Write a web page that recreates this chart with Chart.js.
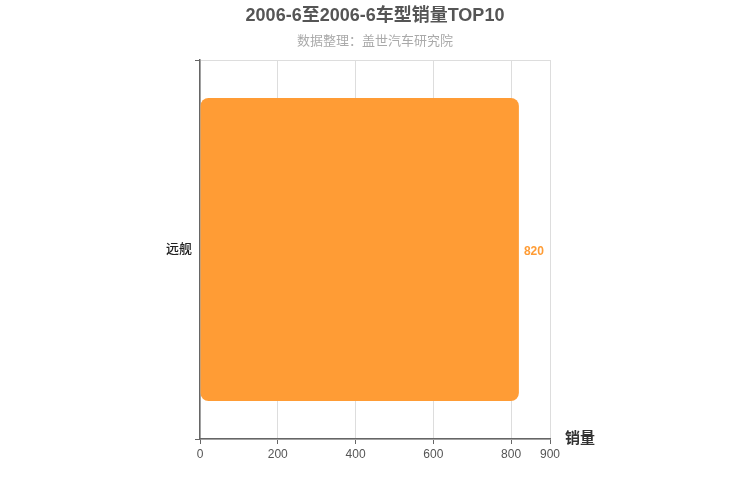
<!DOCTYPE html>
<html>
<head>
<meta charset="utf-8">
<script src="https://cdn.jsdelivr.net/npm/chart.js@4"></script>
<style>
  body { margin: 0; background: #fff; }
  #wrap { width: 750px; height: 500px; }
</style>
</head>
<body>
<div id="wrap"><canvas id="salesChart" width="750" height="500"></canvas></div>
<script>
const titleText = "2006-6至2006-6车型销量TOP10";
const subtitleText = "数据整理：盖世汽车研究院";
const models = ["远舰"];
const sales = [820];
const xTicks = [0, 200, 400, 600, 800, 900];
const axisName = "销量";

const FONT = "'Liberation Sans', Arial, 'Noto Sans CJK SC', sans-serif";
const BAR = "#ff9c35";

// titles, value label and axis name
const textPlugin = {
  id: "textPlugin",
  afterDraw(chart) {
    const c = chart.ctx;
    c.save();
    c.textAlign = "center";
    c.textBaseline = "middle";
    c.fillStyle = "#555";
    c.font = "bold 18px " + FONT;
    c.fillText(titleText, 375, 16);
    c.fillStyle = "#aaa";
    c.font = "13px " + FONT;
    c.fillText(subtitleText, 375, 41);

    const meta = chart.getDatasetMeta(0);
    c.textAlign = "left";
    c.fillStyle = BAR;
    c.font = "bold 12px " + FONT;
    meta.data.forEach((bar, i) => {
      c.fillText(String(sales[i]), bar.x + 5, bar.y + 2);
    });

    c.fillStyle = "#333";
    c.font = "bold 15px " + FONT;
    c.fillText(axisName, chart.chartArea.right + 15, chart.chartArea.bottom);
    c.restore();
  }
};

new Chart(document.getElementById("salesChart"), {
  type: "bar",
  data: {
    labels: models,
    datasets: [{
      data: sales,
      backgroundColor: BAR,
      borderRadius: 8,
      borderSkipped: false,
      barPercentage: 0.8,
      categoryPercentage: 1.0
    }]
  },
  options: {
    indexAxis: "y",
    responsive: false,
    animation: false,
    layout: { padding: { top: 60, right: 200, left: 0, bottom: 0 } },
    plugins: { legend: { display: false }, tooltip: { enabled: false } },
    scales: {
      x: {
        min: 0,
        max: 900,
        afterBuildTicks: (s) => { s.ticks = xTicks.map((v) => ({ value: v })); },
        afterFit: (s) => { s.height = 61; },
        grid: { color: "#ddd", tickColor: "#666", tickLength: 5 },
        border: { color: "#666", width: 1.5 },
        ticks: { color: "#555", font: { family: FONT, size: 12 }, padding: 3, autoSkip: false, maxRotation: 0 }
      },
      y: {
        afterFit: (s) => { s.width = 200; },
        grid: { offset: true, color: "#ddd", tickColor: "#666", tickLength: 5 },
        border: { color: "#666", width: 1.5 },
        ticks: { color: "#222", font: { family: FONT, size: 13, weight: "500" }, padding: 3 }
      }
    }
  },
  plugins: [textPlugin]
});
</script>
</body>
</html>
